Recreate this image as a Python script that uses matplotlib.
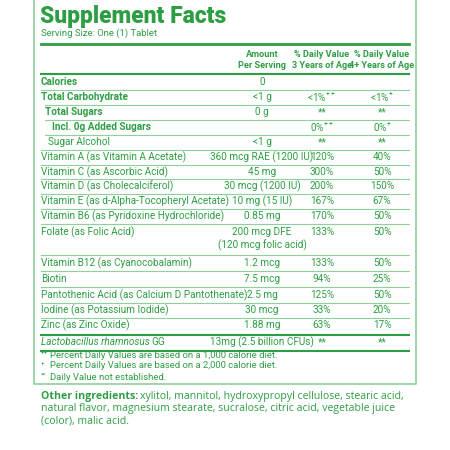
import matplotlib.pyplot as plt

green = '#2e9e44'
light = '#8fd09b'
font = ['Roboto', 'DejaVu Sans']

names = ["Calories", "Total Carbohydrate", "Total Sugars", "Incl. 0g Added Sugars", "Sugar Alcohol",
         "Vitamin A (as Vitamin A Acetate)", "Vitamin C (as Ascorbic Acid)", "Vitamin D (as Cholecalciferol)",
         "Vitamin E (as d-Alpha-Tocopheryl Acetate)", "Vitamin B6 (as Pyridoxine Hydrochloride)",
         "Folate (as Folic Acid)", "Vitamin B12 (as Cyanocobalamin)", "Biotin",
         "Pantothenic Acid (as Calcium D Pantothenate)", "Iodine (as Potassium Iodide)", "Zinc (as Zinc Oxide)",
         "Lactobacillus rhamnosus GG"]
amounts = ["0", "<1 g", "0 g", "", "<1 g", "360 mcg RAE (1200 IU)", "45 mg", "30 mcg (1200 IU)",
           "10 mg (15 IU)", "0.85 mg", "200 mcg DFE\n(120 mcg folic acid)", "1.2 mcg", "7.5 mcg",
           "2.5 mg", "30 mcg", "1.88 mg", "13mg (2.5 billion CFUs)"]
dv3 = ["", "<1%$^{++}$", "**", "0%$^{++}$", "**", "120%", "300%", "200%", "167%", "170%", "133%",
       "133%", "94%", "125%", "33%", "63%", "**"]
dv4 = ["", "<1%$^{+}$", "**", "0%$^{+}$", "**", "40%", "50%", "150%", "67%", "50%", "50%",
       "50%", "25%", "50%", "20%", "17%", "**"]
row_y = [82, 97, 112, 127, 142, 157, 172, 186, 201, 216, 232, 263, 279, 295, 310, 325, 342]
bold = [True, True, True, True, False] + [False] * 12
indent = [0, 0, 4, 11, 7] + [0] * 12

plt.rcParams['mathtext.fontset'] = 'custom'
plt.rcParams['mathtext.rm'] = 'Roboto'

fig = plt.figure(figsize=(4.5, 4.5), dpi=100)
ax = fig.add_axes([0, 0, 1, 1])
ax.set_xlim(0, 450)
ax.set_ylim(450, 0)
ax.axis('off')
renderer = fig.canvas.get_renderer()


def right_edge(t):
    bb = t.get_window_extent(renderer)
    return ax.transData.inverted().transform((bb.x1, bb.y0))[0]


fs = 7.2
ax.plot([34, 34, 416, 416], [0, 384, 384, 0], color=light, lw=1.2)
ax.text(40, 16, "Supplement Facts", fontsize=16.5, fontweight='heavy', color=green,
        family='Roboto', va='center')
ax.text(41, 33, "Serving Size: One (1) Tablet", fontsize=6.8, color=green, family=font, va='center')
ax.plot([41, 409], [44, 44], color=green, lw=2)
for x, t in [(262, "Amount\nPer Serving"), (322, "% Daily Value\n3 Years of Age"), (382, "% Daily Value\n4+ Years of Age")]:
    ax.text(x, 60, t, fontsize=6.6, fontweight='bold', color=green, family=font, ha='center',
            va='center', linespacing=1.3)
ax.plot([41, 409], [74, 74], color=green, lw=1.5)

for i, n in enumerate(names):
    y = row_y[i]
    if n.startswith("Lacto"):
        t = ax.text(41, y, "Lactobacillus rhamnosus", fontsize=fs, color=green, family=font,
                    va='center', style='italic')
        ax.text(right_edge(t) + 1.5, y, "GG", fontsize=fs, color=green, family=font, va='center')
    else:
        ax.text(41 + indent[i], y, n, fontsize=fs, color=green, family=font, va='center',
                fontweight='bold' if bold[i] else 'normal')
    ax.text(262, y + (7 if "\n" in amounts[i] else 0), amounts[i], fontsize=fs, color=green, family=font,
            ha='center', va='center', linespacing=1.2)
    ax.text(322, y, dv3[i], fontsize=fs, color=green, family=font, ha='center', va='center')
    ax.text(382, y, dv4[i], fontsize=fs, color=green, family=font, ha='center', va='center')
    if i < len(names) - 1:
        nxt = row_y[i + 1]
        ly = (y + nxt) / 2 if i != 10 else 255
        if i == 15:
            ax.plot([41, 409], [ly + 1, ly + 1], color=green, lw=1.5)
        else:
            ax.plot([41 + (4 if 1 <= i <= 3 else 0), 409], [ly, ly], color=light, lw=0.8)
ax.plot([41, 409], [351, 351], color=green, lw=1.5)

foot = [("++", "Percent Daily Values are based on a 1,000 calorie diet."),
        ("+", "Percent Daily Values are based on a 2,000 calorie diet."),
        ("**", "Daily Value not established.")]
for k, (s, t) in enumerate(foot):
    y = 355 + k * 11
    ax.text(41, y - 2, s, fontsize=4.5, color=green, family=font, va='center')
    ax.text(50, y, t, fontsize=6.8, color=green, family=font, va='center')

ofs = 7.6
t = ax.text(41, 397, "Other ingredients:", fontsize=ofs, fontweight='bold', color=green, family='Open Sans',
            va='center')
ax.text(right_edge(t) + 2, 397, "xylitol, mannitol, hydroxypropyl cellulose, stearic acid,", fontsize=ofs,
        color=green, family='Open Sans', va='center')
ax.text(41, 409, "natural flavor, magnesium stearate, sucralose, citric acid, vegetable juice", fontsize=ofs,
        color=green, family='Open Sans', va='center')
ax.text(41, 421, "(color), malic acid.", fontsize=ofs, color=green, family='Open Sans', va='center')

fig.savefig("out.png", dpi=100)
